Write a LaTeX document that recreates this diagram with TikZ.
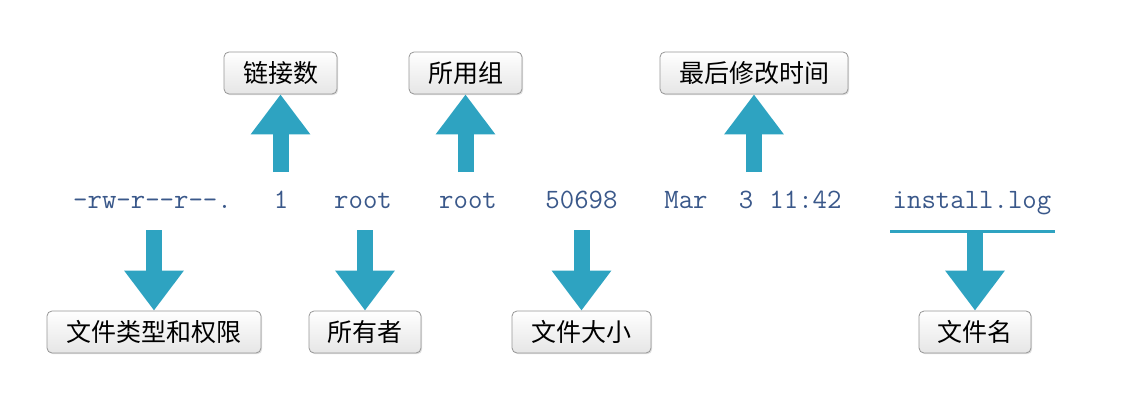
\documentclass[tikz,border=0pt]{standalone}
\usepackage{fontspec}
\newfontfamily\cjk{Noto Sans CJK SC}
\usetikzlibrary{arrows.meta,shadows}
\definecolor{arrowc}{RGB}{46,163,193}
\definecolor{codec}{RGB}{58,88,138}
\definecolor{boxborder}{RGB}{150,150,150}
\tikzset{
  lbl/.style={draw=boxborder, line width=0.8pt, rounded corners=5pt,
    top color=white, bottom color=black!10,
    drop shadow={shadow xshift=1.2pt, shadow yshift=-1.2pt, opacity=0.25},
    minimum height=42pt, inner sep=0pt, font=\cjk\fontsize{25}{27}\selectfont},
  code/.style={text=codec, font=\fontsize{28}{30}\selectfont\ttfamily, inner sep=0pt, anchor=base},
  fat/.style={arrowc, line width=16pt, line cap=butt,
    -{Triangle[length=40pt,width=57pt]}}
}
\begin{document}
\begin{tikzpicture}[x=1pt,y=-1pt]
\useasboundingbox (0,0) rectangle (1134,401);
% labels
\node[lbl, minimum width=113pt] (links) at (280.5,73) {链接数};
\node[lbl, minimum width=113pt] (group) at (465.5,73) {所用组};
\node[lbl, minimum width=188pt] (mtime) at (754,73) {最后修改时间};
\node[lbl, minimum width=214pt] (perm) at (154,332) {文件类型和权限};
\node[lbl, minimum width=112pt] (owner) at (365,332) {所有者};
\node[lbl, minimum width=139pt] (size) at (581.5,332) {文件大小};
\node[lbl, minimum width=112pt] (fname) at (975,332) {文件名};
% listing line
\node[code] (t1) at (152.5,208) {-rw-r--r--.};
\node[code] (t2) at (281,208) {1};
\node[code] (t3) at (363,208) {root};
\node[code] (t4) at (468,208) {root};
\node[code] (t5) at (581.5,208) {50698};
\node[code] (t6) at (686,208) {Mar};
\node[code] (t7) at (746,208) {3};
\node[code] (t8) at (805.5,208) {11:42};
\node[code] (t9) at (972,208) {install.log};
% underline for file name
\coordinate (ul1) at (890,231.5);
\coordinate (ul2) at (1055,231.5);
\draw[arrowc, line width=3pt] (ul1) -- (ul2);
% arrow start points
\coordinate (s1) at (280.5,172);
\coordinate (s2) at (465.5,172);
\coordinate (s3) at (754,172);
\coordinate (d1) at (154,230);
\coordinate (d2) at (365,230);
\coordinate (d3) at (581.5,230);
\coordinate (d4) at (975,230);
\draw[fat] (s1) -- (links.south);
\draw[fat] (s2) -- (group.south);
\draw[fat] (s3) -- (mtime.south);
\draw[fat] (d1) -- (perm.north);
\draw[fat] (d2) -- (owner.north);
\draw[fat] (d3) -- (size.north);
\draw[fat] (d4) -- (fname.north);
\end{tikzpicture}
\end{document}
